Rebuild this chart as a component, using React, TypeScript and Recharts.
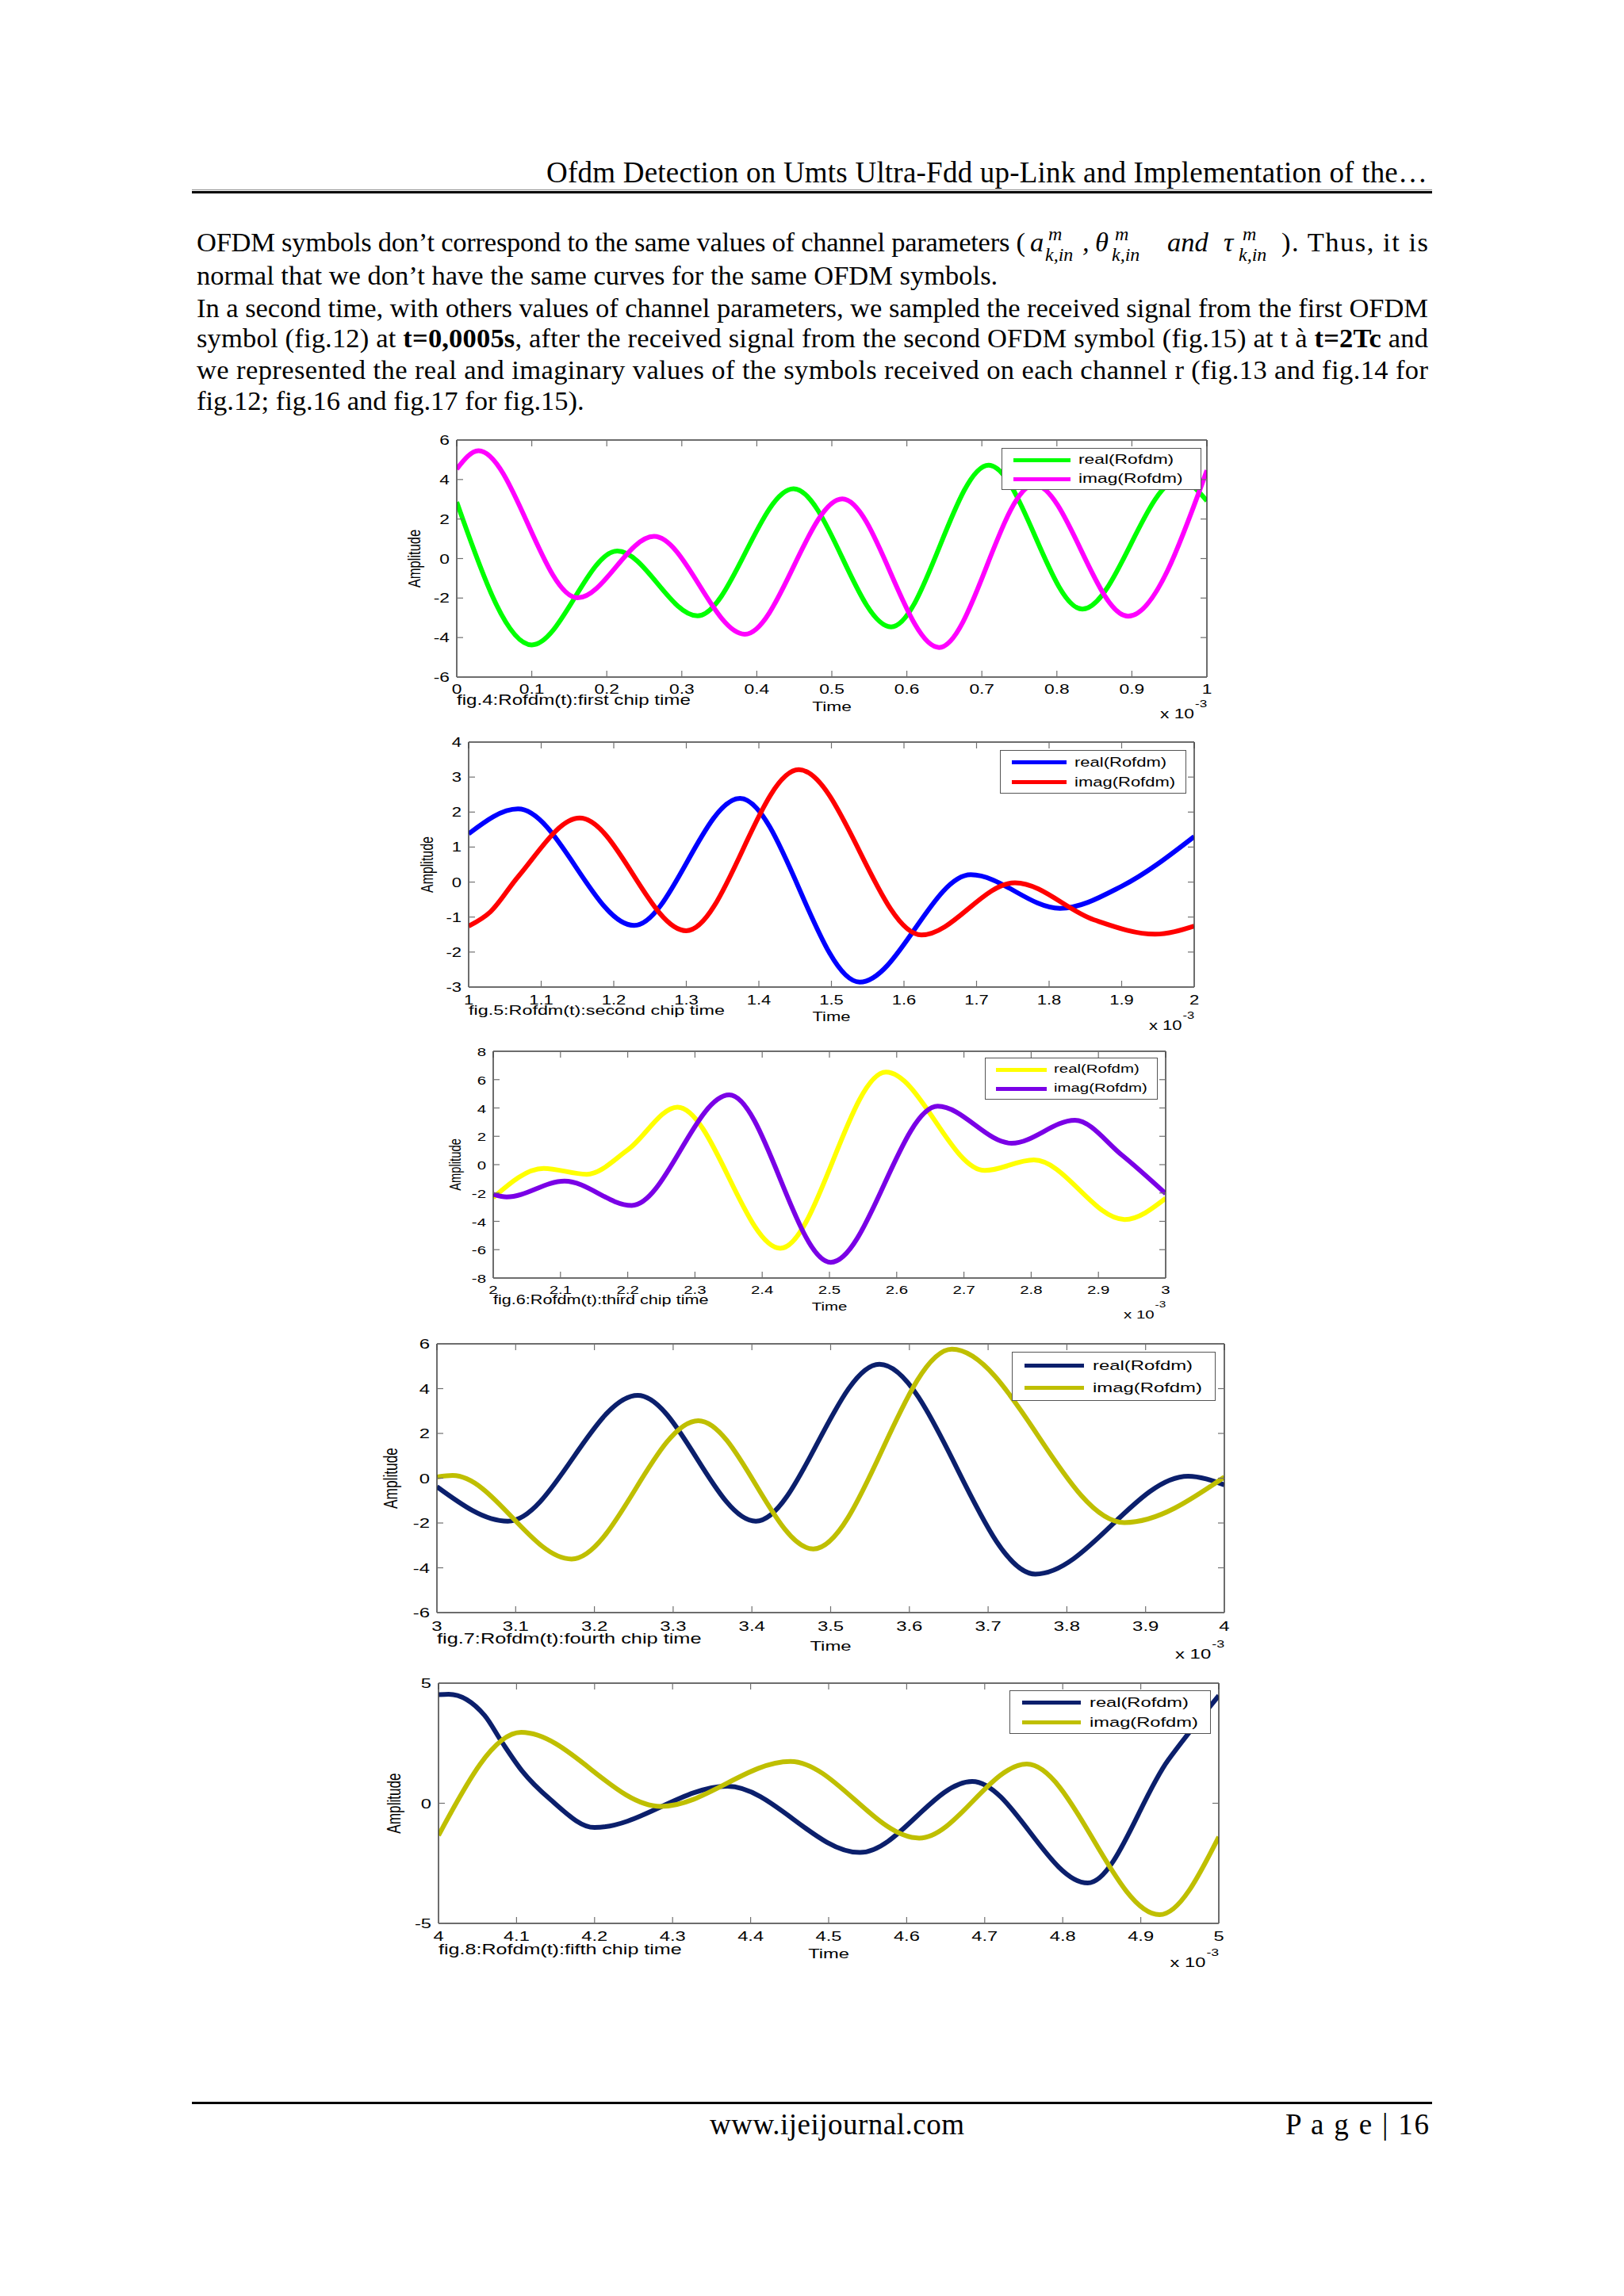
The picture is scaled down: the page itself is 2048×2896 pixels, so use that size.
import React from 'react';
import { LineChart, Line, XAxis, YAxis, Legend } from 'recharts';

type Pt = [number, number];

const SERIES_NAMES = ['real(Rofdm)', 'imag(Rofdm)'];

// ---- fig.4 : first chip time ----
const fig4XTicks = [0, 0.1, 0.2, 0.3, 0.4, 0.5, 0.6, 0.7, 0.8, 0.9, 1];
const fig4YTicks = [-6, -4, -2, 0, 2, 4, 6];
const fig4Real: Pt[] = [[0, 2.86], [0.1, -4.37], [0.214, 0.38], [0.321, -2.9], [0.449, 3.53], [0.579, -3.46], [0.709, 4.73], [0.834, -2.56], [0.963, 4.0], [1, 2.92]];
const fig4Imag: Pt[] = [[0, 4.53], [0.029, 5.46], [0.161, -1.99], [0.263, 1.12], [0.384, -3.83], [0.514, 3.02], [0.643, -4.5], [0.77, 3.73], [0.895, -2.92], [1, 4.46]];

// ---- fig.5 : second chip time ----
const fig5XTicks = [1, 1.1, 1.2, 1.3, 1.4, 1.5, 1.6, 1.7, 1.8, 1.9, 2];
const fig5YTicks = [-3, -2, -1, 0, 1, 2, 3, 4];
const fig5Real: Pt[] = [[1, 1.38], [1.068, 2.09], [1.228, -1.24], [1.374, 2.39], [1.539, -2.86], [1.692, 0.21], [1.815, -0.75], [1.9, -0.12], [2, 1.3]];
const fig5Imag: Pt[] = [[1, -1.26], [1.03, -0.85], [1.068, 0.15], [1.153, 1.83], [1.3, -1.39], [1.455, 3.21], [1.624, -1.51], [1.753, -0.02], [1.862, -1.08], [1.946, -1.49], [2, -1.26]];

// ---- fig.6 : third chip time ----
const fig6XTicks = [2, 2.1, 2.2, 2.3, 2.4, 2.5, 2.6, 2.7, 2.8, 2.9, 3];
const fig6YTicks = [-8, -6, -4, -2, 0, 2, 4, 6, 8];
const fig6Real: Pt[] = [[2, -2.32], [2.075, -0.26], [2.139, -0.68], [2.2, 1.04], [2.274, 4.06], [2.427, -5.9], [2.584, 6.53], [2.731, -0.41], [2.804, 0.33], [2.939, -3.87], [3, -2.37]];
const fig6Imag: Pt[] = [[2, -2.09], [2.02, -2.28], [2.106, -1.16], [2.206, -2.88], [2.351, 4.92], [2.502, -6.89], [2.661, 4.12], [2.771, 1.51], [2.865, 3.13], [2.935, 0.67], [3, -2.04]];

// ---- fig.7 : fourth chip time ----
const fig7XTicks = [3, 3.1, 3.2, 3.3, 3.4, 3.5, 3.6, 3.7, 3.8, 3.9, 4];
const fig7YTicks = [-6, -4, -2, 0, 2, 4, 6];
const fig7Real: Pt[] = [[3, -0.38], [3.09, -1.92], [3.255, 3.7], [3.405, -1.92], [3.562, 5.09], [3.76, -4.28], [3.954, 0.09], [4, -0.3]];
const fig7Imag: Pt[] = [[3, 0.05], [3.02, 0.12], [3.171, -3.61], [3.332, 2.57], [3.478, -3.16], [3.654, 5.76], [3.873, -1.98], [4, 0.05]];

// ---- fig.8 : fifth chip time ----
const fig8XTicks = [4, 4.1, 4.2, 4.3, 4.4, 4.5, 4.6, 4.7, 4.8, 4.9, 5];
const fig8YTicks = [-5, 0, 5];
const fig8Real: Pt[] = [[4, 4.52], [4.013, 4.54], [4.059, 3.66], [4.081, 2.56], [4.107, 1.35], [4.144, 0.14], [4.2, -1.01], [4.37, 0.71], [4.54, -2.05], [4.684, 0.91], [4.832, -3.32], [4.935, 1.79], [5, 4.48]];
const fig8Imag: Pt[] = [[4, -1.34], [4.106, 2.95], [4.285, -0.13], [4.451, 1.74], [4.616, -1.45], [4.754, 1.63], [4.924, -4.64], [5, -1.4]];

const AXIS = '#3c3c3c';
const TICK = '#707070';
const SX = 1.38;
const SANS = "'Liberation Sans', Arial, Helvetica, sans-serif";
const SERIF = "'Liberation Serif', 'Times New Roman', serif";

const fmt = (v: number) => String(Math.round(v * 10) / 10);

type Box = { x: number; y: number; w: number; h: number };
type FigProps = {
  left: number; top: number; w: number; h: number;
  xTicks: number[]; yTicks: number[];
  real: Pt[]; imag: Pt[]; colors: [string, string];
  caption: string; legend: Box;
  amp: number; tickY: number; timeY: number; capY: number; expY: number;
};

const ML = 110, MT = 20, MR = 30, XH = 90;

function Figure(p: FigProps) {
  const k = p.w / 946;
  const fs = 16.5 * k;
  const width = p.w + ML + MR;
  const height = p.h + MT + XH;
  const xDomain: [number, number] = [p.xTicks[0], p.xTicks[p.xTicks.length - 1]];
  const yDomain: [number, number] = [p.yTicks[0], p.yTicks[p.yTicks.length - 1]];
  const rows = (pts: Pt[]) => pts.map(([t, v]) => ({ t, v }));
  const originX = p.left - ML;
  const originY = p.top - MT;

  const XTick = (tp: any) => {
    const { x, y, payload } = tp;
    return (
      <g>
        <line x1={x} y1={y} x2={x} y2={y - 8} stroke={TICK} strokeWidth={1.2} />
        <text transform={`translate(${x},${y + p.tickY}) scale(${SX},1)`} textAnchor="middle" fontSize={fs} fontFamily={SANS} fill="#000">{fmt(payload.value)}</text>
      </g>
    );
  };
  const YTick = (tp: any) => {
    const { x, y, payload } = tp;
    return (
      <g>
        <line x1={x} y1={y} x2={x + 8} y2={y} stroke={TICK} strokeWidth={1.2} />
        <text transform={`translate(${x - 9},${y + 6}) scale(${SX},1)`} textAnchor="end" fontSize={fs} fontFamily={SANS} fill="#000">{fmt(payload.value)}</text>
      </g>
    );
  };
  const Empty = () => <g />;

  const legendContent = (lp: any) => {
    const items = ([...(lp.payload || [])] as any[]).sort(
      (a, b) => SERIES_NAMES.indexOf(a.value) - SERIES_NAMES.indexOf(b.value)
    );
    const lb = p.legend;
    return (
      <div style={{ width: lb.w, height: lb.h, boxSizing: 'border-box', border: '1.5px solid #555', background: '#fff', position: 'relative' }}>
        {items.map((e, i) => {
          const cy = lb.h * (i === 0 ? 0.27 : 0.72);
          return (
            <div key={i}>
              <div style={{ position: 'absolute', left: 14 * k, top: cy - 2.5, width: 72 * k, height: 5, background: e.color }} />
              <div style={{ position: 'absolute', left: 96 * k, top: cy - fs * 0.62, fontSize: fs, lineHeight: `${fs * 1.2}px`, fontFamily: SANS, color: '#000', whiteSpace: 'nowrap', transform: `scaleX(${SX})`, transformOrigin: 'left center' }}>{e.value}</div>
            </div>
          );
        })}
      </div>
    );
  };

  const bottom = MT + p.h;
  return (
    <div style={{ position: 'absolute', left: originX, top: originY, width, height }}>
      <LineChart width={width} height={height} margin={{ top: MT, right: MR, bottom: 0, left: 0 }}>
        <XAxis dataKey="t" type="number" domain={xDomain} ticks={p.xTicks} interval={0} allowDataOverflow height={XH}
          tickLine={false} tickSize={0} tickMargin={0} axisLine={{ stroke: AXIS, strokeWidth: 1.5 }} tick={XTick} />
        <XAxis xAxisId="top" dataKey="t" type="number" orientation="top" mirror domain={xDomain} ticks={p.xTicks} interval={0} allowDataOverflow
          tickSize={8} tickLine={{ stroke: TICK, strokeWidth: 1.2 }} axisLine={{ stroke: AXIS, strokeWidth: 1.5 }} tick={Empty} />
        <YAxis type="number" domain={yDomain} ticks={p.yTicks} interval={0} allowDataOverflow width={ML}
          tickLine={false} tickSize={0} tickMargin={0} axisLine={{ stroke: AXIS, strokeWidth: 1.5 }} tick={YTick} />
        <YAxis yAxisId="right" type="number" orientation="right" mirror domain={yDomain} ticks={p.yTicks} interval={0} allowDataOverflow
          tickSize={8} tickLine={{ stroke: TICK, strokeWidth: 1.2 }} axisLine={{ stroke: AXIS, strokeWidth: 1.5 }} tick={Empty} />
        <Legend layout="vertical" align="center" verticalAlign="middle" content={legendContent}
          wrapperStyle={{ left: p.legend.x - originX, top: p.legend.y - originY, width: p.legend.w, height: p.legend.h, right: 'auto', bottom: 'auto' }} />
        <Line data={rows(p.real)} dataKey="v" name={SERIES_NAMES[0]} type="monotone" stroke={p.colors[0]} strokeWidth={6} dot={false} activeDot={false} isAnimationActive={false} />
        <Line data={rows(p.imag)} dataKey="v" name={SERIES_NAMES[1]} type="monotone" stroke={p.colors[1]} strokeWidth={6} dot={false} activeDot={false} isAnimationActive={false} />
      </LineChart>
      <svg width={width} height={height} style={{ position: 'absolute', left: 0, top: 0, pointerEvents: 'none' }}>
        <text transform={`translate(${ML - p.amp},${MT + p.h / 2}) scale(${SX},1) rotate(-90)`} textAnchor="middle" dominantBaseline="central" fontSize={fs} fontFamily={SANS} fill="#000">Amplitude</text>
        <text transform={`translate(${ML + p.w / 2},${bottom + p.timeY}) scale(${SX},1)`} textAnchor="middle" fontSize={fs} fontFamily={SANS} fill="#000">Time</text>
        <text transform={`translate(${ML},${bottom + p.capY}) scale(${SX},1)`} textAnchor="start" fontSize={fs * 1.06} fontFamily={SANS} fill="#000">{p.caption}</text>
        <text transform={`translate(${ML + p.w - 16 * k},${bottom + p.expY}) scale(${SX},1)`} textAnchor="end" fontSize={fs} fontFamily={SANS} fill="#000">x 10</text>
        <text transform={`translate(${ML + p.w - 15 * k},${bottom + p.expY - 14}) scale(${SX},1)`} textAnchor="start" fontSize={fs * 0.75} fontFamily={SANS} fill="#000">-3</text>
      </svg>
    </div>
  );
}

const NAVY = '#0b1f6c';
const OLIVE = '#bfbf00';

export default function App() {
  return (
    <div style={{ position: 'absolute', left: 0, top: 0, width: 2048, height: 2896, background: '#fff', overflow: 'hidden' }}>
      <svg width={2048} height={2896} style={{ position: 'absolute', left: 0, top: 0 }} fontFamily={SERIF} fill="#000">
        <text x={689} y={230} fontSize={37} textLength={1111} lengthAdjust="spacing">Ofdm Detection on Umts Ultra-Fdd up-Link and Implementation of the…</text>
        <rect x={242} y={239} width={1564} height={1} fill="#888" />
        <rect x={242} y={241} width={1564} height={3} fill="#000" />

        <text x={248} y={317} fontSize={34.5} textLength={1045} lengthAdjust="spacing">OFDM symbols don’t correspond to the same values of channel parameters (</text>
        <g fontStyle="italic">
          <text x={1299} y={317} fontSize={34.5}>a</text>
          <text x={1322} y={303} fontSize={24}>m</text>
          <text x={1318} y={329} fontSize={24}>k,in</text>
          <text x={1365} y={317} fontSize={34.5}>,</text>
          <text x={1381} y={317} fontSize={34.5}>θ</text>
          <text x={1406} y={303} fontSize={24}>m</text>
          <text x={1402} y={329} fontSize={24}>k,in</text>
          <text x={1472} y={317} fontSize={34.5}>and</text>
          <text x={1543} y={317} fontSize={34.5}>τ</text>
          <text x={1567} y={303} fontSize={24}>m</text>
          <text x={1562} y={329} fontSize={24}>k,in</text>
        </g>
        <text x={1616} y={317} fontSize={34.5} textLength={185} lengthAdjust="spacing">). Thus, it is</text>
        <text x={248} y={359} fontSize={34.5}>normal that we don’t have the same curves for the same OFDM symbols.</text>
        <text x={248} y={400} fontSize={34.5} textLength={1553} lengthAdjust="spacing">In a second time, with others values of channel parameters, we sampled the received signal from the first OFDM</text>
        <text x={248} y={438} fontSize={34.5} textLength={1553} lengthAdjust="spacing">symbol (fig.12) at <tspan fontWeight="bold">t=0,0005s</tspan>, after the received signal from the second OFDM symbol (fig.15) at t à <tspan fontWeight="bold">t=2Tc</tspan> and</text>
        <text x={248} y={478} fontSize={34.5} textLength={1553} lengthAdjust="spacing">we represented the real and imaginary values of the symbols received on each channel r (fig.13 and fig.14 for</text>
        <text x={248} y={517} fontSize={34.5}>fig.12; fig.16 and fig.17 for fig.15).</text>

        <rect x={242} y={2651} width={1564} height={3} fill="#000" />
        <text x={895} y={2692} fontSize={37} textLength={321} lengthAdjust="spacing">www.ijeijournal.com</text>
        <text x={1621} y={2692} fontSize={37} textLength={181} lengthAdjust="spacing">P a g e | 16</text>
      </svg>

      <Figure left={576} top={555} w={946} h={299} xTicks={fig4XTicks} yTicks={fig4YTicks} real={fig4Real} imag={fig4Imag}
        colors={['#00ff00', '#ff00ff']} caption="fig.4:Rofdm(t):first chip time" legend={{ x: 1263, y: 565, w: 252, h: 53 }}
        amp={54} tickY={21} timeY={43} capY={35} expY={52} />
      <Figure left={591} top={936} w={915} h={309} xTicks={fig5XTicks} yTicks={fig5YTicks} real={fig5Real} imag={fig5Imag}
        colors={['#0000ff', '#ff0000']} caption="fig.5:Rofdm(t):second chip time" legend={{ x: 1261, y: 946, w: 235, h: 55 }}
        amp={52} tickY={22} timeY={43} capY={35} expY={54} />
      <Figure left={622} top={1326} w={848} h={286} xTicks={fig6XTicks} yTicks={fig6YTicks} real={fig6Real} imag={fig6Imag}
        colors={['#ffff00', '#7a00e6']} caption="fig.6:Rofdm(t):third chip time" legend={{ x: 1242, y: 1334, w: 218, h: 53 }}
        amp={48} tickY={20} timeY={41} capY={33} expY={51} />
      <Figure left={551} top={1695} w={993} h={339} xTicks={fig7XTicks} yTicks={fig7YTicks} real={fig7Real} imag={fig7Imag}
        colors={[NAVY, OLIVE]} caption="fig.7:Rofdm(t):fourth chip time" legend={{ x: 1276, y: 1705, w: 257, h: 62 }}
        amp={59} tickY={23} timeY={48} capY={39} expY={58} />
      <Figure left={553} top={2123} w={984} h={303} xTicks={fig8XTicks} yTicks={fig8YTicks} real={fig8Real} imag={fig8Imag}
        colors={[NAVY, OLIVE]} caption="fig.8:Rofdm(t):fifth chip time" legend={{ x: 1273, y: 2132, w: 254, h: 55 }}
        amp={57} tickY={22} timeY={44} capY={39} expY={55} />
    </div>
  );
}
